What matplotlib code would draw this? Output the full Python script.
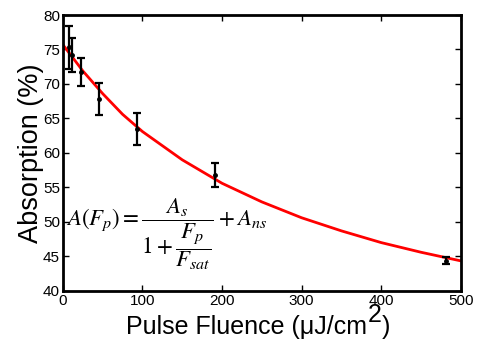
import matplotlib
matplotlib.use("Agg")
import matplotlib.pyplot as plt

# measured points (fluence in uJ/cm^2, absorption in %)
fluence = [7.5, 11.7, 22.6, 44.8, 93.4, 191, 481]
absorption = [75.3, 74.2, 71.7, 67.8, 63.5, 56.8, 44.35]
abs_err = [3.1, 2.5, 2.05, 2.35, 2.3, 1.8, 0.5]

# fitted curve
fit_fluence = [0, 25, 50, 75, 100, 150, 200, 250, 300, 350, 400, 450, 500]
fit_absorption = [75.7, 71.9, 68.6, 65.6, 63.1, 59.0, 55.6, 52.9, 50.6, 48.7, 47.0, 45.6, 44.35]

plt.rcParams["font.family"] = ["Liberation Sans", "DejaVu Sans"]
plt.rcParams["mathtext.fontset"] = "stix"

W, H = 480, 341
fig = plt.figure(figsize=(W / 100, H / 100), dpi=100)
ax = fig.add_axes([0.131, 0.147, 0.829, 0.809])

ax.plot(fit_fluence, fit_absorption, color="red", lw=2)
ax.errorbar(fluence, absorption, yerr=abs_err, fmt=".", color="black",
            ms=5, lw=1.6, capsize=3, capthick=1.6)

ax.set_xlim(0, 500)
ax.set_ylim(40, 80)
ax.set_xticks([0, 100, 200, 300, 400, 500])
ax.set_yticks(range(40, 81, 5))
ax.tick_params(direction="in", length=4, width=1, top=True, right=True,
               labelsize=11, pad=2)
for s in ax.spines.values():
    s.set_linewidth(2)

ax.set_ylabel("Absorption (%)", fontsize=19.5, labelpad=-1)

ax.text(4, 48.3,
        r"$A(F_p) = \dfrac{A_s}{1+\dfrac{F_p}{F_{sat}}} + A_{ns}$",
        fontsize=16.5, va="center", ha="left")

# x label with a full size raised "2", built from pieces
base_y = 1 - 334 / H
t1 = fig.text(126 / W, base_y, "Pulse Fluence (\u03bcJ/cm", fontsize=18,
              ha="left", va="baseline")
fig.canvas.draw()
bb = t1.get_window_extent()
t2 = fig.text((bb.x1 + 1) / W, base_y + 12 / H, "2", fontsize=18,
              ha="left", va="baseline")
fig.canvas.draw()
bb2 = t2.get_window_extent()
fig.text(bb2.x1 / W, base_y, ")", fontsize=18, ha="left", va="baseline")

fig.savefig("out.png", dpi=100)
